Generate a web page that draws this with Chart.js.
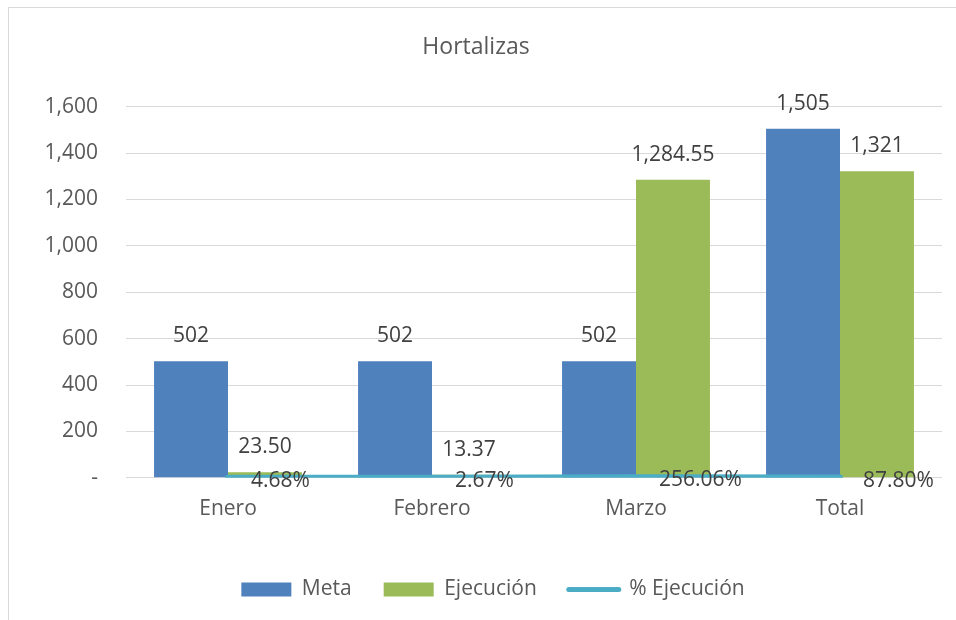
<!DOCTYPE html>
<html>
<head>
<meta charset="utf-8">
<script src="https://cdn.jsdelivr.net/npm/chart.js@4/dist/chart.umd.min.js"></script>
<style>
  body { margin: 0; background: #fff; }
  #wrap { position: relative; width: 956px; height: 620px; }
  #frame { position: absolute; left: 8px; top: 7px; width: 960px; height: 630px; border-top: 1px solid #d9d9d9; border-left: 1px solid #d9d9d9; }
  canvas { position: absolute; left: 0; top: 0; }
</style>
</head>
<body>
<div id="wrap">
  <div id="frame"></div>
  <canvas id="chart" width="956" height="620"></canvas>
</div>
<script>
const categories = ["Enero", "Febrero", "Marzo", "Total"];
const meta = [502, 502, 502, 1505];
const ejecucion = [23.50, 13.37, 1284.55, 1321];
const pctEjecucion = [4.68, 2.67, 256.06, 87.80];
const yTicks = [0, 200, 400, 600, 800, 1000, 1200, 1400, 1600];

const FONT = "'Open Sans', sans-serif";
const textColor = "#595959";

const formatValue = (v) =>
  v.toLocaleString("en-US", {
    minimumFractionDigits: Number.isInteger(v) ? 0 : 2,
    maximumFractionDigits: 2,
  });

// draws the value labels like excel does
const valueLabels = {
  id: "valueLabels",
  afterDatasetsDraw(chart) {
    const ctx = chart.ctx;
    ctx.save();
    ctx.font = "21px " + FONT;
    ctx.fillStyle = "#404040";
    chart.data.datasets.forEach((ds, i) => {
      const m = chart.getDatasetMeta(i);
      m.data.forEach((el, j) => {
        if (ds.type === "line") {
          ctx.textAlign = "left";
          ctx.textBaseline = "middle";
          ctx.fillText(pctEjecucion[j].toFixed(2) + "%", el.x + 23, el.y + 3);
        } else {
          ctx.textAlign = "center";
          ctx.textBaseline = "middle";
          ctx.fillText(formatValue(ds.data[j]), el.x, el.y - 25);
        }
      });
    });
    ctx.restore();
  },
};

// nudge title and legend a bit to the right, like the excel layout
const nudgeBoxes = {
  id: "nudgeBoxes",
  afterLayout(chart) {
    chart.legend.left += 22;
    chart.legend.right += 22;
    chart.titleBlock.left += 5;
    chart.titleBlock.right += 5;
  },
};

new Chart(document.getElementById("chart"), {
  type: "bar",
  data: {
    labels: categories,
    datasets: [
      {
        label: "Meta",
        data: meta,
        backgroundColor: "#4F81BD",
        categoryPercentage: 0.725,
        barPercentage: 1,
      },
      {
        label: "Ejecución",
        data: ejecucion,
        backgroundColor: "#9BBB59",
        categoryPercentage: 0.725,
        barPercentage: 1,
      },
      {
        type: "line",
        label: "% Ejecución",
        data: pctEjecucion.map((p) => p / 100),
        borderColor: "#4BACC6",
        backgroundColor: "#4BACC6",
        borderWidth: 6,
        borderCapStyle: "round",
        pointRadius: 0,
        order: -1,
      },
    ],
  },
  options: {
    responsive: false,
    animation: false,
    events: [],
    layout: { padding: { left: 0, right: 14, top: 22, bottom: 10 } },
    scales: {
      x: {
        grid: { display: false },
        border: { display: false },
        afterFit: (s) => { s.height += 14; },
        ticks: { color: textColor, font: { family: FONT, size: 21 }, padding: 11 },
      },
      y: {
        min: 0,
        max: 1600,
        afterBuildTicks: (s) => { s.ticks = yTicks.map((v) => ({ value: v })); },
        afterFit: (s) => { s.width = 126; },
        grid: { color: "#d9d9d9", drawTicks: false },
        border: { display: false },
        ticks: {
          color: textColor,
          font: { family: FONT, size: 21 },
          padding: 28,
          callback: (v) => (v === 0 ? "-" : v.toLocaleString("en-US")),
        },
      },
    },
    plugins: {
      title: {
        display: true,
        text: "Hortalizas",
        color: textColor,
        font: { family: FONT, size: 23, weight: "normal" },
        padding: { top: 12, bottom: 45 },
      },
      legend: {
        position: "bottom",
        labels: {
          color: textColor,
          font: { family: FONT, size: 21 },
          usePointStyle: true,
          pointStyleWidth: 50,
          boxHeight: 14,
          padding: 32,
          sort: (a, b) => a.datasetIndex - b.datasetIndex,
          generateLabels(chart) {
            const items = Chart.defaults.plugins.legend.labels.generateLabels(chart);
            items.forEach((it) => {
              const ds = chart.data.datasets[it.datasetIndex];
              if (ds.type === "line") {
                it.pointStyle = "line";
                it.lineWidth = 5;
                it.lineCap = "round";
                it.strokeStyle = ds.borderColor;
              } else {
                it.pointStyle = "rect";
                it.lineWidth = 0;
              }
            });
            return items;
          },
        },
      },
      tooltip: { enabled: false },
    },
  },
  plugins: [valueLabels, nudgeBoxes],
});
</script>
</body>
</html>
